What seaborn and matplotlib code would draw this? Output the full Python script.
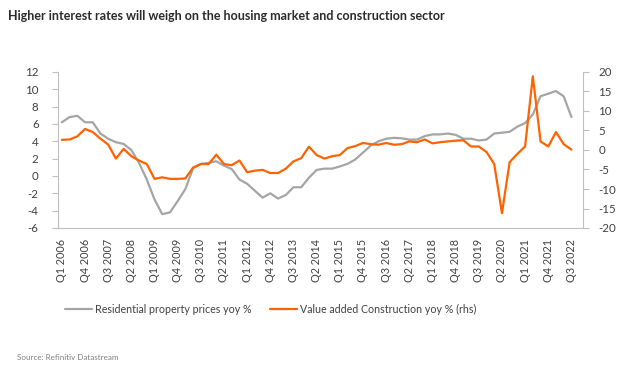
import numpy as np
import pandas as pd
import matplotlib
matplotlib.use("Agg")
import matplotlib.pyplot as plt
import seaborn as sns

# ---- data ----
residential = [6.2, 6.8, 6.95, 6.2, 6.2, 4.9, 4.3, 3.9, 3.7, 3.0, 1.5, -0.4, -2.7, -4.4, -4.2, -2.9, -1.5,
               0.9, 1.4, 1.5, 1.7, 1.2, 0.8, -0.4, -0.9, -1.7, -2.5, -2.0, -2.6, -2.2, -1.3, -1.3, -0.2, 0.7,
               0.85, 0.85, 1.1, 1.4, 1.9, 2.7, 3.5, 4.0, 4.3, 4.4, 4.35, 4.2, 4.2, 4.6, 4.8, 4.8, 4.9,
               4.75, 4.3, 4.3, 4.1, 4.2, 4.9, 5.0, 5.1, 5.7, 6.1, 7.1, 9.2, 9.5, 9.8, 9.2, 6.8]
construction = [2.6, 2.7, 3.5, 5.4, 4.6, 2.9, 1.4, -2.2, 0.3, -1.6, -2.7, -3.6, -7.4, -7.0, -7.4, -7.4, -7.3,
                -4.5, -3.6, -3.6, -1.2, -3.6, -3.9, -2.7, -5.7, -5.3, -5.1, -5.9, -5.9, -4.8, -2.9, -2.1, 0.85, -1.3,
                -2.2, -1.6, -1.3, 0.5, 1.0, 1.8, 1.5, 1.35, 1.8, 1.35, 1.5, 2.2, 2.0, 2.7, 1.7, 2.0, 2.2,
                2.4, 2.5, 0.9, 0.9, -0.5, -3.6, -16.2, -3.1, -1.0, 0.9, 18.9, 2.2, 0.9, 4.6, 1.5, 0.1]
tick_labels = ["Q1 2006", "Q4 2006", "Q3 2007", "Q2 2008", "Q1 2009", "Q4 2009", "Q3 2010", "Q2 2011",
               "Q1 2012", "Q4 2012", "Q3 2013", "Q2 2014", "Q1 2015", "Q4 2015", "Q3 2016", "Q2 2017",
               "Q1 2018", "Q4 2018", "Q3 2019", "Q2 2020", "Q1 2021", "Q4 2021", "Q3 2022"]
left_ticks = [12, 10, 8, 6, 4, 2, 0, -2, -4, -6]
right_ticks = [20, 15, 10, 5, 0, -5, -10, -15, -20]
series_names = ["Residential property prices yoy %", "Value added Construction yoy % (rhs)"]

df = pd.DataFrame({"q": np.arange(len(residential)), "res": residential, "con": construction})

sns.set_style("white")
plt.rcParams["font.family"] = ["Lato", "DejaVu Sans"]

GREY = "#A5A5A5"
ORANGE = "#FF6200"
SPINE = "#BFBFBF"
TXT = "#404040"

fig = plt.figure(figsize=(6.24, 3.73), dpi=100)
W, H = 624, 373
ax = fig.add_axes([58 / W, 1 - 228 / H, (583 - 58) / W, (228 - 72) / H])
ax2 = ax.twinx()

sns.lineplot(data=df, x="q", y="res", ax=ax, color=GREY, linewidth=1.6, label=series_names[0], legend=False)
sns.lineplot(data=df, x="q", y="con", ax=ax2, color=ORANGE, linewidth=1.6, label=series_names[1], legend=False)

ax.set_xlim(-0.5, 67.5)
ax.set_ylim(-6, 12)
ax2.set_ylim(-20, 20)
ax.set_yticks(left_ticks)
ax.set_yticklabels([str(t) for t in left_ticks])
ax2.set_yticks(right_ticks)
ax2.set_yticklabels([str(t) for t in right_ticks])

label_pos = np.arange(0, len(residential), 3)
ax.set_xticks(label_pos)
ax.set_xticklabels(tick_labels, rotation=90)
ax.set_xticks(np.arange(-0.5, 68, 1), minor=True)

for a in (ax, ax2):
    a.set_xlabel("")
    a.set_ylabel("")
    for s in a.spines.values():
        s.set_visible(False)
ax.spines["left"].set_visible(True)
ax.spines["bottom"].set_visible(True)
ax2.spines["right"].set_visible(True)
for s in (ax.spines["left"], ax.spines["bottom"], ax2.spines["right"]):
    s.set_color(SPINE)
    s.set_linewidth(0.8)

ax.tick_params(axis="y", which="major", direction="out", length=4, color=SPINE, pad=10,
               labelsize=8.3, labelcolor=TXT)
ax2.tick_params(axis="y", which="major", direction="out", length=4, color=SPINE, pad=7,
                labelsize=8.3, labelcolor=TXT)
ax.tick_params(axis="x", which="major", length=0, pad=8, labelsize=7.8, labelcolor=TXT)
ax.tick_params(axis="x", which="minor", direction="out", length=3, color=SPINE)

handles = [ax.lines[0], ax2.lines[0]]
fig.legend(handles, series_names, loc="center left", bbox_to_anchor=(60 / W, 1 - 309 / H),
           ncol=2, frameon=False, fontsize=7.7, handlelength=2.5, handletextpad=0.3,
           columnspacing=1.7, borderpad=0, labelcolor=TXT)

fig.text(8 / W, 1 - 16 / H, "Higher interest rates will weigh on the housing market and construction sector",
         fontsize=9, color="#2B2B2B", va="center", ha="left", fontweight="bold")
fig.text(17 / W, 1 - 357 / H, "Source: Refinitiv Datastream", fontsize=5.8, color="#7F7F7F",
         va="center", ha="left")

fig.savefig("out.png", dpi=100)
